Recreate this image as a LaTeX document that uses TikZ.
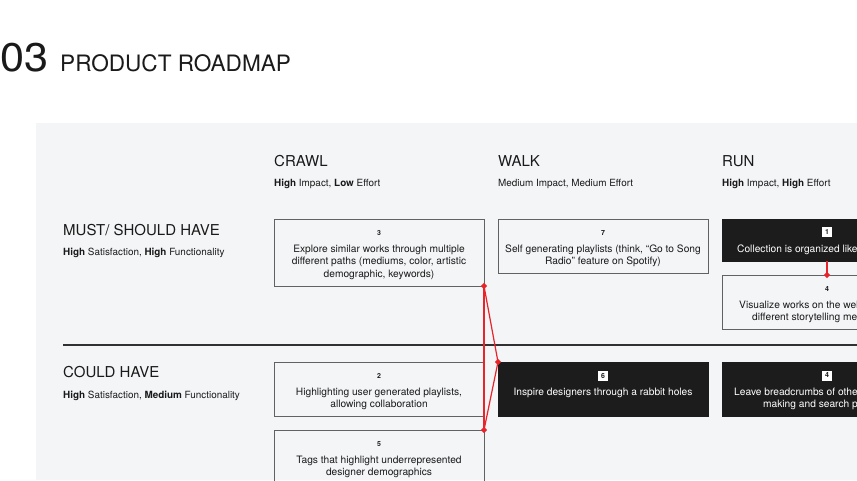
\documentclass[tikz,border=0pt]{standalone}
\usepackage{fontspec}
\setmainfont{TeX Gyre Heros}
\usetikzlibrary{shapes.geometric}
\definecolor{panel}{HTML}{F4F5F7}
\definecolor{ink}{HTML}{1A1A1A}
\definecolor{boxline}{HTML}{626262}
\definecolor{dark}{HTML}{1C1C1C}
\definecolor{link}{HTML}{E8232A}
\tikzset{
  card/.style={draw=boxline, line width=0.8pt, outer sep=0pt, inner sep=0pt, minimum width=210pt, anchor=north west},
  darkcard/.style={fill=dark, draw=dark, line width=0.8pt, outer sep=0pt, inner sep=0pt, minimum width=210pt, anchor=north west},
  txt/.style={font=\fontsize{10.2}{11}\selectfont, text=ink, inner sep=0pt, anchor=base},
  wtxt/.style={txt, text=white},
  wtxtl/.style={wtxt, anchor=base west},
  txtl/.style={txt, anchor=base west},
  num/.style={font=\bfseries\fontsize{7}{8}\selectfont, text=ink, inner sep=0pt, anchor=base},
  numsq/.style={fill=white, minimum size=10pt, inner sep=0pt, font=\bfseries\fontsize{7}{8}\selectfont, text=ink},
  dia/.style={diamond, fill=link, inner sep=0pt, minimum size=6.5pt},
  link/.style={draw=link, line width=1.2pt},
  head/.style={font=\fontsize{15}{18}\selectfont, anchor=base west, inner sep=0pt, text=ink},
  sub/.style={font=\fontsize{9.9}{11}\selectfont, anchor=base west, inner sep=0pt, text=ink},
}
\begin{document}
\begin{tikzpicture}[x=1pt,y=-1pt]
\useasboundingbox (0,0) rectangle (857,480);
\clip (0,0) rectangle (857,480);
\fill[white] (0,0) rectangle (857,480);
\fill[panel] (36,123) rectangle (857,480);

% title
\node[anchor=base west, inner sep=0pt, text=ink, font=\fontsize{40}{42}\selectfont, xscale=1.08] (secnum) at (0,71) {03};
\node[anchor=base west, inner sep=0pt, text=ink, font=\fontsize{22.6}{24}\selectfont] (title) at (60,71) {PRODUCT ROADMAP};

% column heads
\node[head] (crawl) at (274,166) {CRAWL};
\node[sub] (crawlsub) at (274,186) {\textbf{High} Impact, \textbf{Low} Effort};
\node[head] (walk) at (498,166) {WALK};
\node[sub] (walksub) at (498,186) {Medium Impact, Medium Effort};
\node[head] (run) at (722,166) {RUN};
\node[sub] (runsub) at (722,186) {\textbf{High} Impact, \textbf{High} Effort};

% row heads
\node[head] (must) at (63,235) {MUST/ SHOULD HAVE};
\node[sub] (mustsub) at (63,255) {\textbf{High} Satisfaction, \textbf{High} Functionality};
\node[head] (could) at (63,377) {COULD HAVE};
\node[sub] (couldsub) at (63,398) {\textbf{High} Satisfaction, \textbf{Medium} Functionality};

\coordinate (divL) at (63,345);
\coordinate (divR) at (857,345);
\draw[line width=1.2pt, draw=ink!90] (divL) -- (divR);

% must row
\node[card, minimum height=67pt] (b3) at (274,219) {};
\node[num] (b3n) at (379,235) {3};
\node[txt] (b3a) at (379,252) {Explore similar works through multiple};
\node[txt] (b3b) at (379,264.5) {different paths (mediums, color, artistic};
\node[txt] (b3c) at (379,277) {demographic, keywords)};

\node[card, minimum height=54pt] (b7) at (498,219) {};
\node[num] (b7n) at (603,235) {7};
\node[txt] (b7a) at (603,252) {Self generating playlists (think, “Go to Song};
\node[txt] (b7b) at (603,264.5) {Radio” feature on Spotify)};

\node[darkcard, minimum height=42pt] (b1) at (722,219) {};
\node[numsq] (b1n) at (827,232) {1};
\node[wtxtl] (b1a) at (737,252) {Collection is organized like};

\node[card, minimum height=54pt] (b4r) at (722,275) {};
\node[num] (b4rn) at (827,291) {4};
\node[txtl] (b4ra) at (739,308) {Visualize works on the web};
\node[txtl] (b4rb) at (752,320.5) {different storytelling me};

% could row
\node[card, minimum height=54pt] (b2) at (274,362) {};
\node[num] (b2n) at (379,378) {2};
\node[txt] (b2a) at (379,395) {Highlighting user generated playlists,};
\node[txt] (b2b) at (379,407.5) {allowing collaboration};

\node[card, minimum height=67pt] (b5) at (274,430) {};
\node[num] (b5n) at (379,446) {5};
\node[txt] (b5a) at (379,463) {Tags that highlight underrepresented};
\node[txt] (b5b) at (379,475.5) {designer demographics};

\node[darkcard, minimum height=54pt] (b6) at (498,362) {};
\node[numsq] (b6n) at (603,375.5) {6};
\node[wtxt] (b6a) at (603,395) {Inspire designers through a rabbit holes};

\node[darkcard, minimum height=54pt] (b4c) at (722,362) {};
\node[numsq] (b4cn) at (827,375.5) {4};
\node[wtxtl] (b4ca) at (734,395) {Leave breadcrumbs of othe};
\node[wtxtl] (b4cb) at (763,407.5) {making and search p};

% connectors
\draw[link] (b3.south east) -- (b5.north east);
\draw[link] (b3.south east) -- (b6.north west) -- (b5.north east);
\draw[link] (b1.south) -- (b4r.north);
\node[dia] (d1) at (b3.south east) {};
\node[dia] (d2) at (b6.north west) {};
\node[dia] (d3) at (b5.north east) {};
\node[dia] (d4) at (b4r.north) {};
\end{tikzpicture}
\end{document}
